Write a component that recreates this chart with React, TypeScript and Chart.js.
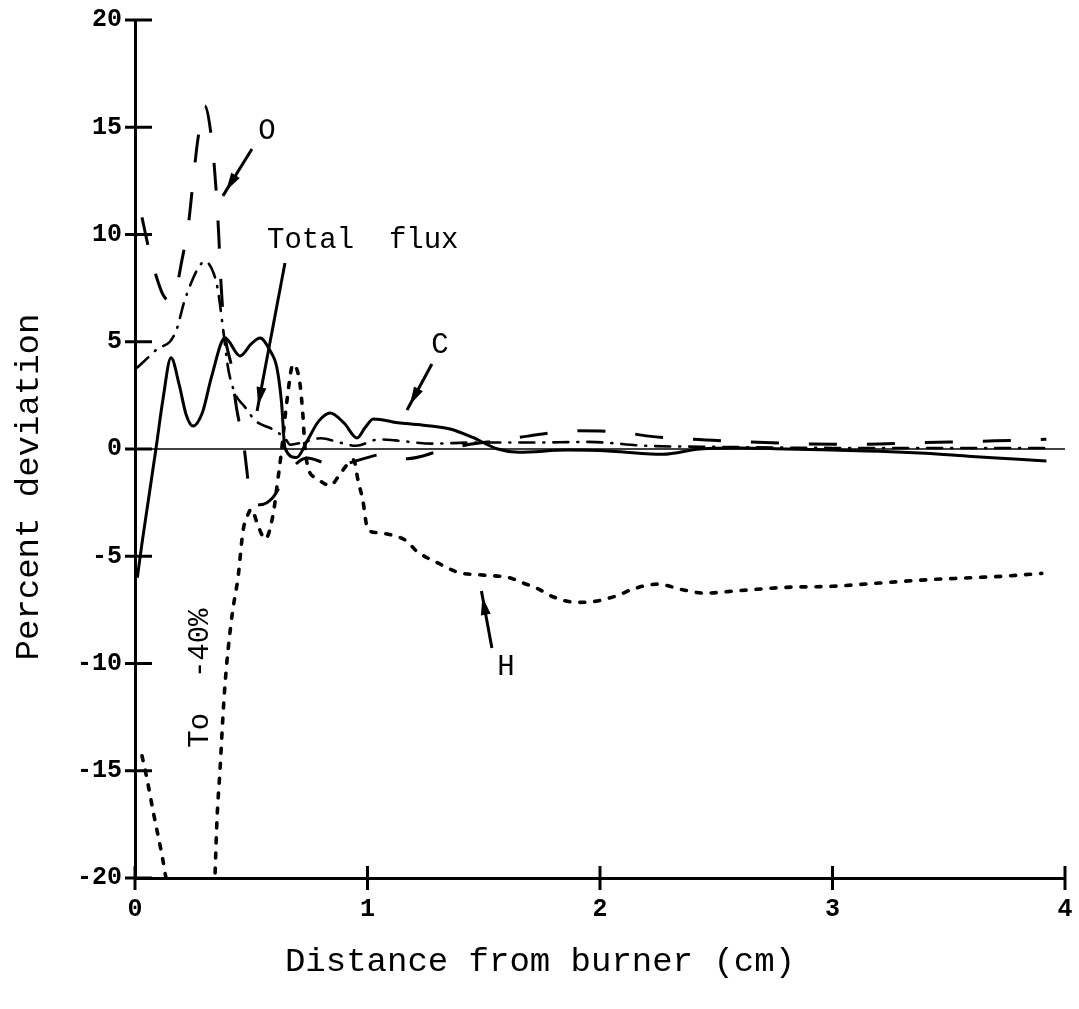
import React, { useEffect, useRef } from "react";
import { Chart, registerables } from "chart.js";

Chart.register(...registerables);

// Axis ticks
const xTicks = [0, 1, 2, 3, 4];
const yTicks = [-20, -15, -10, -5, 0, 5, 10, 15, 20];

// C — solid curve
const cX = [0.01, 0.03, 0.06, 0.09, 0.12, 0.155, 0.19, 0.22, 0.25, 0.29, 0.33, 0.387, 0.452, 0.5, 0.538, 0.58, 0.61, 0.63, 0.645, 0.695, 0.74, 0.79, 0.84, 0.9, 0.955, 0.99, 1.025, 1.14, 1.25, 1.355, 1.45, 1.56, 1.65, 1.86, 2.05, 2.27, 2.43, 2.6, 2.8, 3.0, 3.2, 3.4, 3.6, 3.8, 3.92];
const cY = [-6.0, -4.4, -2.2, 0.0, 2.3, 4.25, 3.0, 1.6, 1.07, 1.7, 3.4, 5.17, 4.34, 4.9, 5.17, 4.6, 3.8, 2.2, 0.05, -0.4, 0.37, 1.3, 1.68, 1.2, 0.51, 1.0, 1.4, 1.21, 1.1, 0.93, 0.55, 0.0, -0.15, -0.05, -0.1, -0.25, 0.0, 0.05, 0.0, -0.05, -0.1, -0.2, -0.35, -0.48, -0.56];

// O — long dashes
const oX = [0.03, 0.06, 0.09, 0.12, 0.15, 0.18, 0.2, 0.23, 0.25, 0.27, 0.3, 0.33, 0.35, 0.36, 0.37, 0.385, 0.42, 0.43, 0.47, 0.48, 0.495, 0.54, 0.59, 0.654, 0.74, 0.8, 0.85, 0.95, 1.07, 1.17, 1.31, 1.43, 1.57, 1.69, 1.89, 2.08, 2.21, 2.4, 2.6, 2.85, 3.1, 3.4, 3.7, 3.92];
const oY = [10.8, 9.3, 8.1, 7.2, 6.9, 7.6, 8.7, 10.5, 12.5, 14.4, 16.0, 14.4, 11.9, 10.0, 7.7, 5.5, 3.5, 2.4, 0.0, -0.9, -2.2, -2.6, -2.3, -1.17, -0.42, -0.6, -0.85, -0.56, -0.25, -0.45, -0.1, 0.2, 0.4, 0.6, 0.85, 0.8, 0.6, 0.45, 0.35, 0.25, 0.22, 0.3, 0.38, 0.45];

// Total flux — dash-dot
const fluxX = [0.01, 0.05, 0.1, 0.15, 0.18, 0.21, 0.24, 0.27, 0.3, 0.33, 0.355, 0.38, 0.4, 0.43, 0.47, 0.52, 0.59, 0.645, 0.667, 0.72, 0.8, 0.88, 0.95, 1.05, 1.12, 1.28, 1.45, 1.7, 1.95, 2.2, 2.5, 3.0, 3.5, 3.92];
const fluxY = [3.8, 4.2, 4.7, 5.0, 5.6, 6.8, 7.7, 8.4, 8.75, 8.4, 7.5, 5.5, 3.8, 2.6, 2.0, 1.3, 0.93, 0.5, 0.2, 0.3, 0.5, 0.3, 0.15, 0.45, 0.4, 0.25, 0.3, 0.3, 0.33, 0.15, 0.1, 0.05, 0.05, 0.05];

// H — short dashes (dips to about -40 between 0.13 and 0.35 cm)
const hX = [0.03, 0.05, 0.08, 0.11, 0.13, 0.16, 0.24, 0.33, 0.345, 0.353, 0.366, 0.378, 0.387, 0.4, 0.42, 0.443, 0.465, 0.486, 0.5, 0.53, 0.56, 0.595, 0.61, 0.63, 0.653, 0.68, 0.71, 0.723, 0.73, 0.745, 0.78, 0.84, 0.88, 0.915, 0.94, 0.96, 0.98, 1.0, 1.04, 1.1, 1.17, 1.21, 1.31, 1.39, 1.5, 1.61, 1.67, 1.73, 1.8, 1.9, 1.98, 2.07, 2.15, 2.25, 2.35, 2.45, 2.6, 2.8, 3.0, 3.2, 3.4, 3.6, 3.75, 3.9];
const hY = [-14.3, -15.3, -17.0, -18.6, -19.8, -22, -40, -24, -19.6, -17.2, -14.9, -12.5, -11.0, -9.4, -7.55, -6.0, -3.8, -3.05, -2.8, -3.6, -4.2, -3.0, -1.8, -0.1, 2.2, 3.95, 3.0, 1.45, 0.2, -0.9, -1.35, -1.7, -1.2, -0.7, -0.5, -1.5, -2.4, -3.7, -3.9, -4.0, -4.3, -4.75, -5.35, -5.75, -5.88, -6.0, -6.25, -6.5, -6.9, -7.15, -7.1, -6.85, -6.5, -6.3, -6.55, -6.72, -6.6, -6.45, -6.4, -6.25, -6.1, -6.0, -5.92, -5.8];

const FONT = '"Liberation Mono", "DejaVu Sans Mono", monospace';

const pts = (xs: number[], ys: number[]) => xs.map((x, i) => ({ x, y: ys[i] }));

// Curve labels with their pointer arrows (data coordinates)
const curveLabels = [
  { text: "O", x: 0.568, y: 14.83, align: "center" as CanvasTextAlign, from: [0.503, 13.99], to: [0.378, 11.8] },
  { text: "Total  flux", x: 0.568, y: 9.37, align: "left" as CanvasTextAlign, baseline: true, from: [0.645, 8.67], to: [0.525, 1.77] },
  { text: "C", x: 1.312, y: 4.85, align: "center" as CanvasTextAlign, from: [1.277, 3.96], to: [1.17, 1.82] },
  { text: "H", x: 1.596, y: -10.2, align: "center" as CanvasTextAlign, from: [1.535, -9.28], to: [1.49, -6.62] },
];

function arrow(ctx: CanvasRenderingContext2D, x1: number, y1: number, x2: number, y2: number) {
  const ang = Math.atan2(y2 - y1, x2 - x1);
  ctx.lineWidth = 3;
  ctx.beginPath();
  ctx.moveTo(x1, y1);
  ctx.lineTo(x2, y2);
  ctx.stroke();
  const hl = 18, hw = 5;
  const bx = x2 - Math.cos(ang) * 6;
  const by = y2 - Math.sin(ang) * 6;
  ctx.beginPath();
  ctx.moveTo(bx, by);
  ctx.lineTo(bx - Math.cos(ang) * hl + Math.sin(ang) * hw, by - Math.sin(ang) * hl - Math.cos(ang) * hw);
  ctx.lineTo(bx - Math.cos(ang) * hl - Math.sin(ang) * hw, by - Math.sin(ang) * hl + Math.cos(ang) * hw);
  ctx.closePath();
  ctx.fill();
}

const decorations = {
  id: "decorations",
  afterDraw(chart: any) {
    const { ctx, chartArea: a, scales } = chart;
    const xs = scales.x;
    const ys = scales.y;
    ctx.save();
    ctx.strokeStyle = "#000";
    ctx.fillStyle = "#000";
    ctx.lineCap = "butt";

    // cross-shaped tick marks on both axes
    ctx.lineWidth = 3;
    for (const v of yTicks) {
      const py = ys.getPixelForValue(v);
      ctx.beginPath();
      ctx.moveTo(a.left - 10, py);
      ctx.lineTo(a.left + 17, py);
      ctx.stroke();
    }
    for (const v of xTicks) {
      const px = xs.getPixelForValue(v);
      ctx.beginPath();
      ctx.moveTo(px, a.bottom - 12);
      ctx.lineTo(px, a.bottom + 12);
      ctx.stroke();
    }

    // axis titles
    ctx.font = `34px ${FONT}`;
    ctx.textAlign = "center";
    ctx.textBaseline = "middle";
    ctx.fillText("Distance from burner (cm)", 540, 962);
    ctx.save();
    ctx.translate(29, 487);
    ctx.rotate(-Math.PI / 2);
    ctx.fillText("Percent deviation", 0, 0);
    ctx.restore();

    // curve labels and arrows
    ctx.font = `29px ${FONT}`;
    for (const l of curveLabels) {
      ctx.textAlign = l.align;
      ctx.textBaseline = l.baseline ? "alphabetic" : "middle";
      ctx.fillText(l.text, xs.getPixelForValue(l.x), ys.getPixelForValue(l.y));
      arrow(
        ctx,
        xs.getPixelForValue(l.from[0]), ys.getPixelForValue(l.from[1]),
        xs.getPixelForValue(l.to[0]), ys.getPixelForValue(l.to[1])
      );
    }

    // note for the off-scale H dip
    ctx.save();
    ctx.translate(xs.getPixelForValue(0.28), ys.getPixelForValue(-10.68));
    ctx.rotate(-Math.PI / 2);
    ctx.textAlign = "center";
    ctx.textBaseline = "middle";
    ctx.fillText("To  -40%", 0, 0);
    ctx.restore();

    ctx.restore();
  },
};

export default function App() {
  const ref = useRef<HTMLCanvasElement>(null);

  useEffect(() => {
    if (!ref.current) return;
    const tickFont = { family: FONT, size: 25, weight: "bold" as const };
    const chart = new Chart(ref.current, {
      type: "line",
      data: {
        datasets: [
          {
            label: "zero",
            data: [{ x: 0, y: 0 }, { x: 4, y: 0 }],
            borderColor: "#000",
            borderWidth: 1.3,
          },
          {
            label: "C",
            data: pts(cX, cY),
            borderColor: "#000",
            borderWidth: 3,
            cubicInterpolationMode: "monotone",
          },
          {
            label: "O",
            data: pts(oX, oY),
            borderColor: "#000",
            borderWidth: 3,
            borderDash: [28, 30],
            cubicInterpolationMode: "monotone",
          },
          {
            label: "Total flux",
            data: pts(fluxX, fluxY),
            borderColor: "#000",
            borderWidth: 2.6,
            borderDash: [15, 9, 1, 9],
            borderCapStyle: "round",
            cubicInterpolationMode: "monotone",
          },
          {
            label: "H",
            data: pts(hX, hY),
            borderColor: "#000",
            borderWidth: 3.6,
            borderDash: [5, 10],
            borderCapStyle: "round",
            cubicInterpolationMode: "monotone",
          },
        ],
      },
      options: {
        animation: false,
        responsive: false,
        devicePixelRatio: 1,
        layout: { padding: { top: 20, right: 14, left: 0, bottom: 0 } },
        plugins: { legend: { display: false }, tooltip: { enabled: false } },
        elements: { point: { radius: 0 } },
        scales: {
          x: {
            type: "linear",
            min: 0,
            max: 4,
            ticks: { stepSize: 1, font: tickFont, color: "#000", padding: 17, maxRotation: 0 },
            grid: { display: false, drawTicks: false },
            border: { display: true, color: "#000", width: 3 },
            afterFit: (s: any) => {
              s.height = 131;
              s.paddingLeft = 0;
              s.paddingRight = 0;
            },
          },
          y: {
            type: "linear",
            min: -20,
            max: 20,
            ticks: { stepSize: 5, font: tickFont, color: "#000", padding: 13 },
            grid: { display: false, drawTicks: false },
            border: { display: true, color: "#000", width: 3 },
            afterFit: (s: any) => {
              s.width = 135;
              s.paddingTop = 0;
              s.paddingBottom = 0;
            },
          },
        },
      },
      plugins: [decorations],
    } as any);
    return () => chart.destroy();
  }, []);

  return (
    <div style={{ position: "absolute", left: 0, top: 0, width: 1079, height: 1009, background: "#fff" }}>
      <canvas ref={ref} width={1079} height={1009} style={{ display: "block" }} />
    </div>
  );
}
